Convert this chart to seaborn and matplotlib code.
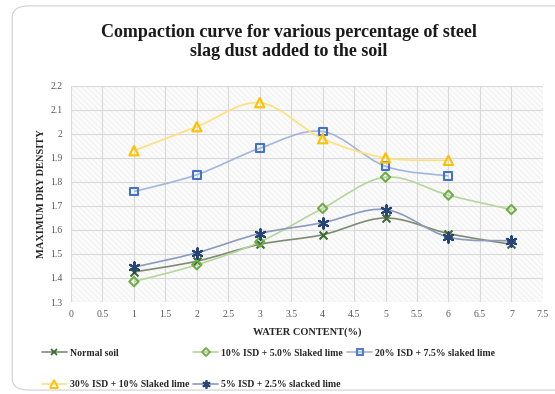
import numpy as np
import pandas as pd
import seaborn as sns
import matplotlib
matplotlib.use("Agg")
import matplotlib.pyplot as plt
from matplotlib.path import Path
from matplotlib.patches import PathPatch, Rectangle, FancyBboxPatch
from matplotlib.lines import Line2D

water = [1, 2, 3, 4, 5, 6, 7]
normal_soil = [1.425, 1.47, 1.54, 1.58, 1.65, 1.585, 1.54]
isd10 = [1.385, 1.455, 1.55, 1.69, 1.82, 1.745, 1.685]
isd20 = [1.76, 1.83, 1.94, 2.01, 1.865, 1.825]
isd30 = [1.93, 2.03, 2.13, 1.98, 1.90, 1.89]
isd5 = [1.445, 1.505, 1.585, 1.63, 1.685, 1.57, 1.555]

names = ["Normal soil", "10% ISD + 5.0% Slaked lime", "20% ISD + 7.5% slaked lime",
         "30% ISD + 10% Slaked lime", "5% ISD + 2.5% slacked lime"]
series = [normal_soil, isd10, isd20, isd30, isd5]
line_colors = ["#7f8c72", "#b5d69c", "#a3b6dc", "#ffe07a", "#8a9bbb"]
mark_colors = ["#3d6b2f", "#70ad47", "#4472c4", "#ffc000", "#264478"]
markers = ["x", "D", "s", "^", (6, 2, 0)]
msizes = [6, 5, 6, 7, 8]

sns.set_theme(style="white")
plt.rcParams['font.family'] = ['Liberation Serif', 'DejaVu Serif']
plt.rcParams['hatch.linewidth'] = 0.4

fig = plt.figure(figsize=(5.55, 3.94), dpi=100)
fig.patch.set_facecolor("white")
fig.patches.append(FancyBboxPatch((0.022, 0.01), 1.2, 0.975, boxstyle="round,pad=0,rounding_size=0.03",
                                  transform=fig.transFigure, facecolor="white",
                                  edgecolor="#d0d0d0", lw=0.8, zorder=-5))
ax = fig.add_axes([0.128, 0.2335, 0.85, 0.5485])
ax.set_facecolor("white")
ax.add_patch(Rectangle((0, 0), 1, 1, transform=ax.transAxes, facecolor="#fbfbfb",
                       hatch="\\\\\\\\\\\\", edgecolor="#ebebeb", lw=0, zorder=0))

def smooth_path(xs, ys):
    pts = np.column_stack([xs, ys]).astype(float)
    n = len(pts)
    verts = [pts[0]]
    codes = [Path.MOVETO]
    for i in range(n - 1):
        p0 = pts[i - 1] if i > 0 else pts[i]
        p1 = pts[i]
        p2 = pts[i + 1]
        p3 = pts[i + 2] if i + 2 < n else pts[i + 1]
        c1 = p1 + (p2 - p0) / 6.0
        c2 = p2 - (p3 - p1) / 6.0
        verts += [c1, c2, p2]
        codes += [Path.CURVE4] * 3
    return Path(verts, codes)

rows = []
for name, vals in zip(names, series):
    for x, y in zip(water, vals):
        rows.append({"water": x, "mdd": y, "series": name})
df = pd.DataFrame(rows)

handles = []
for i, (name, vals) in enumerate(zip(names, series)):
    xs = water[:len(vals)]
    ax.add_patch(PathPatch(smooth_path(xs, vals), facecolor="none",
                           edgecolor=line_colors[i], lw=1.2, zorder=2))
    sub = df[df["series"] == name]
    filled = markers[i] in ("x", (6, 2, 0))
    sns.scatterplot(data=sub, x="water", y="mdd", ax=ax, marker=markers[i],
                    s=msizes[i] ** 2 * 0.9,
                    facecolor="none" if not filled else mark_colors[i],
                    edgecolor=mark_colors[i], linewidth=1.5, zorder=3, legend=False)
    handles.append(Line2D([0], [0], color=line_colors[i], lw=1.2, marker=markers[i],
                          markersize=msizes[i] * 0.75, markerfacecolor="none" if not filled else mark_colors[i],
                          markeredgecolor=mark_colors[i], markeredgewidth=1.3))

ax.set_xlim(0, 7.5)
ax.set_ylim(1.3, 2.2)
ax.set_xticks(np.arange(0, 7.51, 0.5))
ax.set_yticks(np.arange(1.3, 2.201, 0.1))
ax.set_xticklabels([f"{v:g}" for v in np.arange(0, 7.51, 0.5)])
ax.set_yticklabels(["2" if abs(v - 2) < 1e-9 else f"{v:.1f}" for v in np.arange(1.3, 2.201, 0.1)])
ax.grid(True, color="#d9d9d9", lw=0.8, zorder=1)
ax.set_axisbelow(True)
for s in ax.spines.values():
    s.set_visible(False)
ax.tick_params(axis="both", labelsize=7, colors="#595959", length=0, pad=6)
ax.set_xlabel("WATER CONTENT(%)", fontsize=7.5, fontweight="bold", color="#262626", labelpad=6)
ax.set_ylabel("MAXIMUM DRY DENSITY", fontsize=7.5, fontweight="bold", color="#262626", labelpad=3)

fig.text(0.52, 0.893, "Compaction curve for various percentage of steel\nslag dust added to the soil",
         ha="center", va="center", fontsize=13, fontweight="bold", color="#1a1a1a", linespacing=1.15)

order = [0, 3, 1, 4, 2]
fig.legend([handles[k] for k in order], [names[k] for k in order], ncol=3,
           loc="upper left", bbox_to_anchor=(0.068, 0.125), frameon=False,
           prop={"size": 7.0, "weight": "bold", "family": "Liberation Serif"},
           handlelength=2.6, columnspacing=0.4, handletextpad=0.3, labelspacing=2.3,
           borderaxespad=0)

fig.savefig("out.png", dpi=100)
